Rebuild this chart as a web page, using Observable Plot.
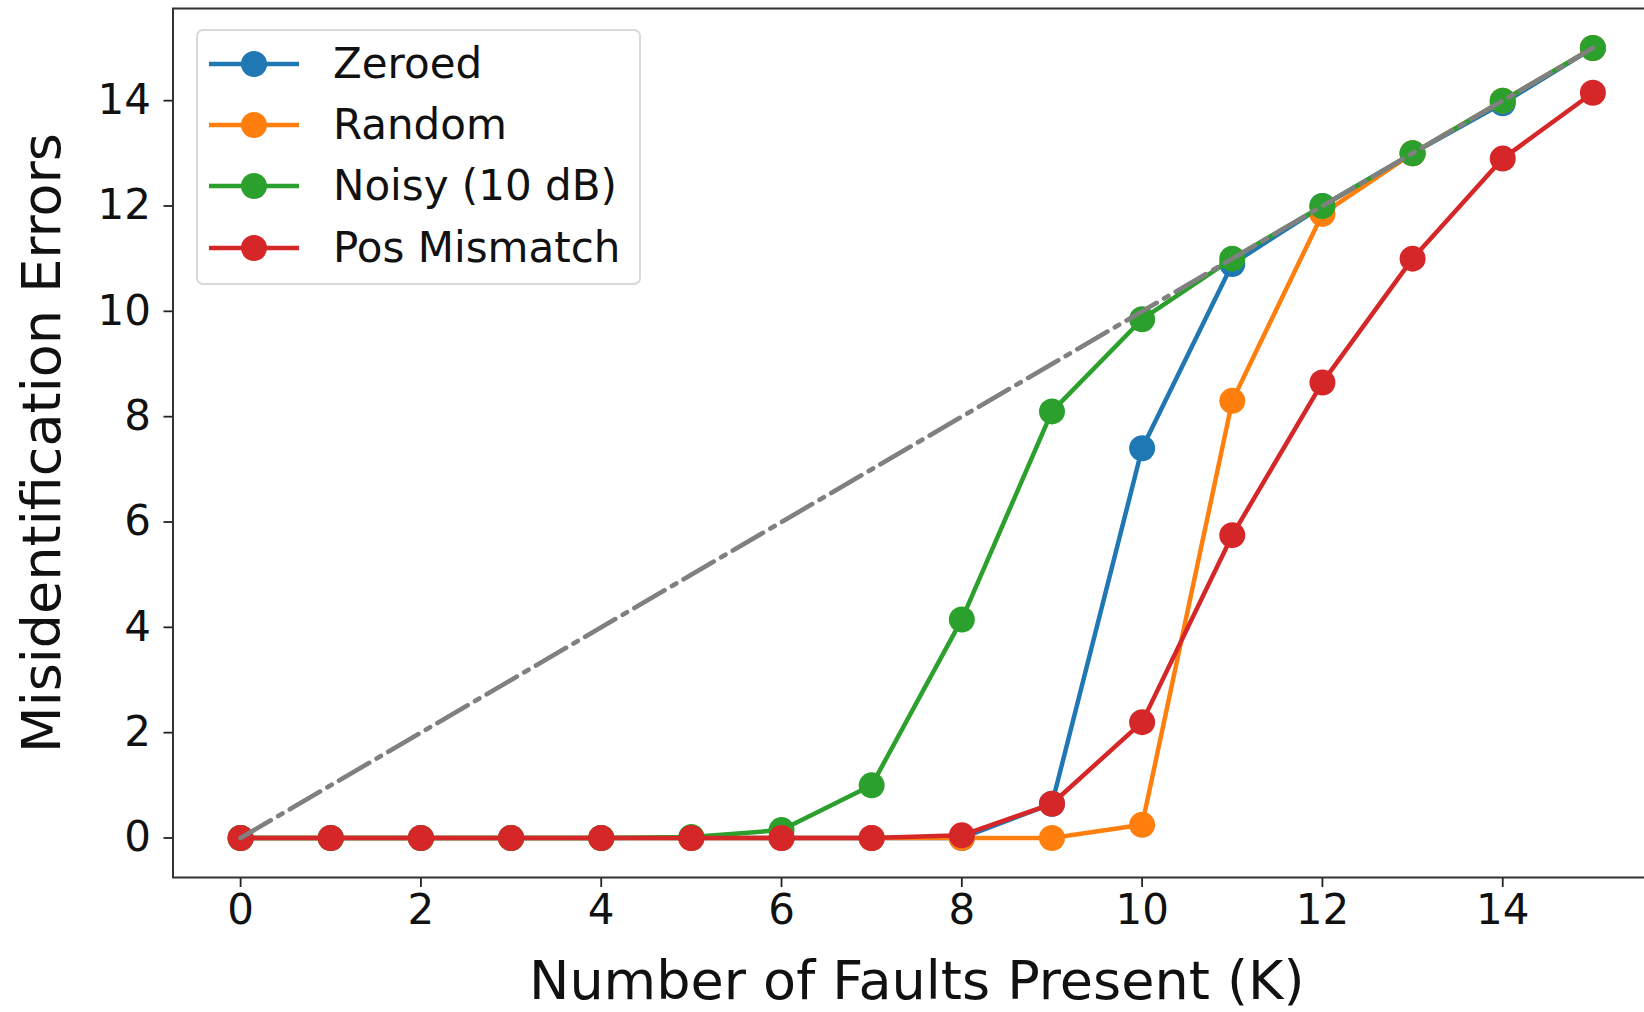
<!DOCTYPE html>
<html>
<head>
<meta charset="utf-8">
<script src="https://cdn.jsdelivr.net/npm/d3@7"></script>
<script src="https://cdn.jsdelivr.net/npm/@observablehq/plot@0.6"></script>
<style>
  html, body { margin: 0; padding: 0; background: #fff; }
  #wrap { position: relative; width: 1644px; height: 1012px; overflow: hidden; font-family: "DejaVu Sans", sans-serif; }
  #legend { position: absolute; left: 196px; top: 29px; width: 441px; height: 252px; border: 2px solid #d9d9d9; border-radius: 7px; background: rgba(255,255,255,0.85); box-sizing: content-box; }
  .row { position: absolute; left: 0; height: 40px; display: flex; align-items: center; }
  .row svg { margin-left: 11px; }
  .row span { font-size: 42px; color: #111; margin-left: 34px; line-height: 40px; white-space: nowrap; }
</style>
</head>
<body>
<div id="wrap"><div id="chart"></div><div id="legend"></div></div>
<script>
// ---- data ----
const faults = [0, 1, 2, 3, 4, 5, 6, 7, 8, 9, 10, 11, 12, 13, 14, 15];
const zeroed = [0, 0, 0, 0, 0, 0, 0, 0, 0, 0.65, 7.4, 10.9, 12.0, 13.0, 13.95, 15.0];
const random = [0, 0, 0, 0, 0, 0, 0, 0, 0, 0, 0.25, 8.3, 11.85, 13.0, 14.0, 15.0];
const noisy = [0, 0, 0, 0, 0, 0.02, 0.15, 1.0, 4.15, 8.1, 9.85, 11.0, 12.0, 13.0, 14.0, 15.0];
const posMismatch = [0, 0, 0, 0, 0, 0, 0, 0, 0.05, 0.65, 2.2, 5.75, 8.65, 11.0, 12.9, 14.15];
const diagX = [0, 15];
const diagY = [0, 15];
const seriesNames = ["Zeroed", "Random", "Noisy (10 dB)", "Pos Mismatch"];
const seriesValues = [zeroed, random, noisy, posMismatch];
const seriesColors = ["#1f77b4", "#ff7f0e", "#2ca02c", "#d62728"];
const xTicks = [0, 2, 4, 6, 8, 10, 12, 14];
const yTicks = [0, 2, 4, 6, 8, 10, 12, 14];
const xLabel = "Number of Faults Present (K)";
const yLabel = "Misidentification Errors";

// ---- build ----
const diag = diagX.map((x, i) => ({x, y: diagY[i]}));
const marks = [];
seriesValues.forEach((vals, si) => {
  const rows = faults.map((k, i) => ({k, v: vals[i]}));
  marks.push(Plot.line(rows, {x: "k", y: "v", stroke: seriesColors[si], strokeWidth: 4.5}));
  marks.push(Plot.dot(rows, {x: "k", y: "v", r: 13, fill: seriesColors[si], stroke: "none"}));
});
marks.push(Plot.line(diag, {x: "x", y: "y", stroke: "#808080", strokeWidth: 4.6, strokeDasharray: "35,8.5,5,8.5"}));

const chart = Plot.plot({
  width: 1644,
  height: 1012,
  marginLeft: 172.5,
  marginRight: -16,
  marginTop: 8,
  marginBottom: 135,
  style: {fontFamily: "DejaVu Sans, sans-serif", background: "#fff", overflow: "visible"},
  x: {domain: [-0.75, 15.75], range: [172.5, 1660]},
  y: {domain: [-0.75, 15.75], range: [877, 8]},
  marks: [
    Plot.axisX({ticks: xTicks, tickSize: 10, tickPadding: 7, fontSize: 42, stroke: "#222", strokeWidth: 1.8, color: "#111",
      label: null, tickFormat: d => String(d)}),
    Plot.axisY({ticks: yTicks, tickSize: 9, tickPadding: 13, fontSize: 42, stroke: "#222", strokeWidth: 1.8, color: "#111",
      label: null, tickFormat: d => String(d)}),
    Plot.frame({stroke: "#333", strokeWidth: 2}),
    ...marks,
    Plot.text([xLabel], {frameAnchor: "bottom", dy: 121, fontSize: 54, fill: "#111", textAnchor: "middle", lineAnchor: "bottom", text: d => d}),
    Plot.text([yLabel], {frameAnchor: "left", dx: -113, rotate: -90, fontSize: 54, fill: "#111", textAnchor: "middle", lineAnchor: "bottom", text: d => d})
  ]
});
document.getElementById("chart").appendChild(chart);

// ---- legend ----
const legend = document.getElementById("legend");
const rowCenters = [33, 94, 155, 217];
seriesNames.forEach((name, i) => {
  const row = document.createElement("div");
  row.className = "row";
  row.style.top = (rowCenters[i] - 20) + "px";
  row.innerHTML = `<svg width="90" height="30"><line x1="0" y1="15" x2="90" y2="15" stroke="${seriesColors[i]}" stroke-width="4.5"/><circle cx="45" cy="15" r="13" fill="${seriesColors[i]}"/></svg><span>${name}</span>`;
  legend.appendChild(row);
});
</script>
</body>
</html>
